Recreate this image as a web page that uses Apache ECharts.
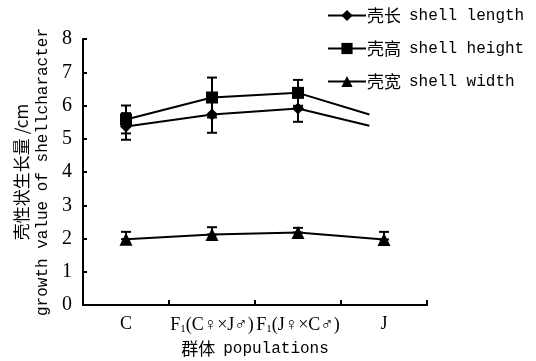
<!DOCTYPE html>
<html>
<head>
<meta charset="utf-8">
<script src="https://cdn.jsdelivr.net/npm/echarts@6/dist/echarts.min.js"></script>
<style>
  html, body { margin: 0; padding: 0; background: #fff; }
  #chart { width: 536px; height: 361px; }
</style>
</head>
<body>
<div id="chart"></div>
<script>
// populations on the x axis
var populations = ["C", "F1(C♀×J♂)", "F1(J♀×C♂)", "J"];
var yTicks = [0, 1, 2, 3, 4, 5, 6, 7, 8];

// shell length / height: last point only partly drawn in the original (line stops short of J)
var lengthX = [0, 1, 2, 2.83];
var lengthVal = [5.37, 5.73, 5.91, 5.39];
var lengthErr = [0.4, 0.55, 0.4];

var heightX = [0, 1, 2, 2.83];
var heightVal = [5.58, 6.24, 6.38, 5.73];
var heightErr = [0.42, 0.6, 0.39];

var widthX = [0, 1, 2, 3];
var widthVal = [1.98, 2.12, 2.18, 1.97];
var widthErr = [0.22, 0.22, 0.14, 0.23];

function pairs(xs, ys) {
  return xs.map(function (x, i) { return [x, ys[i]]; });
}

// line points; the cut-off end gets no marker
function linePoints(xs, ys, nMarked) {
  return xs.map(function (x, i) {
    var item = { value: [x, ys[i]] };
    if (i >= nMarked) item.symbol = "none";
    return item;
  });
}

// [x, low, high] for error bars
function errData(xs, ys, errs, upOnly) {
  return errs.map(function (e, i) {
    return [xs[i], upOnly ? ys[i] : ys[i] - e, ys[i] + e];
  });
}

function renderErr(params, api) {
  var lo = api.coord([api.value(0), api.value(1)]);
  var hi = api.coord([api.value(0), api.value(2)]);
  var cap = 5;
  var st = { stroke: "#000", lineWidth: 2 };
  return {
    type: "group",
    children: [
      { type: "line", shape: { x1: lo[0], y1: lo[1], x2: hi[0], y2: hi[1] }, style: st },
      { type: "line", shape: { x1: hi[0] - cap, y1: hi[1], x2: hi[0] + cap, y2: hi[1] }, style: st },
      { type: "line", shape: { x1: lo[0] - cap, y1: lo[1], x2: lo[0] + cap, y2: lo[1] }, style: st }
    ]
  };
}

var serif = "Liberation Serif";
var mono = "Liberation Mono";
var cjk = "Noto Sans CJK SC";

var chart = echarts.init(document.getElementById("chart"), null, { renderer: "canvas" });

var option = {
  backgroundColor: "#fff",
  animation: false,
  grid: { left: 83, right: 109, top: 39, bottom: 56, outerBoundsMode: "none" },
  legend: {
    orient: "vertical",
    left: 322,
    top: 2,
    itemGap: 16,
    itemWidth: 38,
    itemHeight: 14,
    data: ["length", "height", "width"],
    formatter: function (name) {
      var m = { length: "{cn|壳长}{en|shell length}", height: "{cn|壳高}{en|shell height}", width: "{cn|壳宽}{en|shell width}" };
      return m[name];
    },
    textStyle: {
      color: "#000",
      padding: [0, 0, 0, -4],
      rich: {
        cn: { fontFamily: cjk, fontSize: 17, color: "#000", lineHeight: 22 },
        en: { fontFamily: mono, fontSize: 16, color: "#000", padding: [0, 0, 0, 8], lineHeight: 22 }
      }
    }
  },
  xAxis: [
    {
      type: "category",
      data: populations,
      boundaryGap: true,
      name: "{cn|群体}{en|populations}",
      nameLocation: "middle",
      nameGap: 35,
      nameTextStyle: {
        rich: {
          cn: { fontFamily: cjk, fontSize: 17, color: "#000" },
          en: { fontFamily: mono, fontSize: 16, color: "#000", padding: [0, 0, 0, 8] }
        }
      },
      axisLine: { lineStyle: { color: "#000", width: 2 } },
      axisTick: { show: true, inside: true, length: 5, lineStyle: { color: "#000", width: 2 } },
      axisLabel: {
        color: "#000",
        interval: 0,
        margin: 10,
        fontFamily: serif,
        fontSize: 18,
        formatter: function (v) {
          if (v.indexOf("F1") === 0) return "F{sub|1}" + v.slice(2);
          return v;
        },
        rich: {
          sub: { fontFamily: serif, fontSize: 11, verticalAlign: "bottom", padding: [9, 0, 0, 0] }
        }
      }
    },
    { type: "value", min: -0.5, max: 3.5, show: false }
  ],
  yAxis: {
    type: "value",
    min: yTicks[0],
    max: yTicks[yTicks.length - 1],
    interval: 1,
    name: "{cn|壳性状生长量 /cm}\n{en|growth value of shellcharacter}",
    nameLocation: "middle",
    nameGap: 30,
    nameRotate: 90,
    nameTextStyle: {
      align: "center",
      rich: {
        cn: { fontFamily: cjk, fontSize: 17, color: "#000", lineHeight: 21 },
        en: { fontFamily: mono, fontSize: 16, color: "#000", lineHeight: 21 }
      }
    },
    splitLine: { show: false },
    axisLine: { show: true, onZero: false, lineStyle: { color: "#000", width: 2 } },
    axisTick: { show: true, inside: true, length: 4, lineStyle: { color: "#000", width: 2 } },
    axisLabel: { color: "#000", fontFamily: serif, fontSize: 20, margin: 11 }
  },
  series: [
    {
      name: "length",
      type: "line",
      xAxisIndex: 1,
      data: linePoints(lengthX, lengthVal, 3),
      symbol: "diamond",
      symbolSize: 12,
      color: "#000",
      lineStyle: { color: "#000", width: 2 },
      itemStyle: { color: "#000" },
      z: 3
    },
    {
      name: "height",
      type: "line",
      xAxisIndex: 1,
      data: linePoints(heightX, heightVal, 3),
      symbol: "rect",
      symbolSize: 12,
      color: "#000",
      lineStyle: { color: "#000", width: 2 },
      itemStyle: { color: "#000" },
      z: 3
    },
    {
      name: "width",
      type: "line",
      xAxisIndex: 1,
      data: pairs(widthX, widthVal),
      symbol: "triangle",
      symbolSize: 13,
      color: "#000",
      lineStyle: { color: "#000", width: 2 },
      itemStyle: { color: "#000" },
      z: 3
    },
    { type: "custom", xAxisIndex: 1, renderItem: renderErr, data: errData(lengthX, lengthVal, lengthErr, false), z: 2 },
    { type: "custom", xAxisIndex: 1, renderItem: renderErr, data: errData(heightX, heightVal, heightErr, false), z: 2 },
    { type: "custom", xAxisIndex: 1, renderItem: renderErr, data: errData(widthX, widthVal, widthErr, true), z: 2 }
  ]
};

chart.setOption(option);
</script>
</body>
</html>
